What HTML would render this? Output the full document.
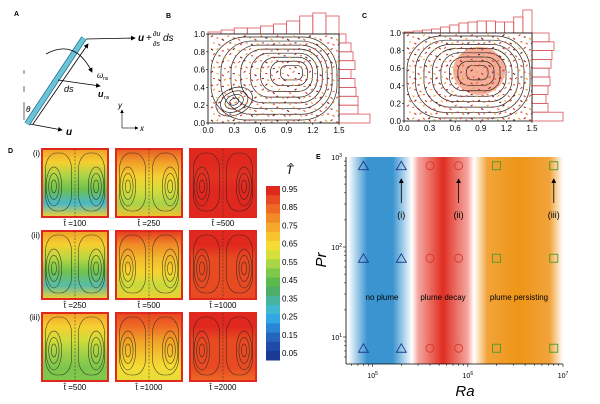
<!DOCTYPE html>
<html><head><meta charset="utf-8"><style>
html,body{margin:0;padding:0;background:#fff}
svg{display:block;font-family:"Liberation Sans",sans-serif}
</style></head><body>
<svg id="fig" width="600" height="404" viewBox="0 0 600 404" xmlns="http://www.w3.org/2000/svg">
<defs>
<marker id="ah" markerWidth="6" markerHeight="6" refX="5" refY="3" orient="auto"><path d="M0,0 L6,3 L0,6 z" fill="#000"/></marker>
<linearGradient id="gBlue" x1="0" x2="1" y1="0" y2="0"><stop offset="0" stop-color="#fff"/><stop offset="0.3" stop-color="#3a94d0"/><stop offset="0.7" stop-color="#3a94d0"/><stop offset="1" stop-color="#fff"/></linearGradient>
<linearGradient id="gRed" x1="0" x2="1" y1="0" y2="0"><stop offset="0" stop-color="#fff"/><stop offset="0.1" stop-color="#f4a7a0"/><stop offset="0.5" stop-color="#e12d20"/><stop offset="0.9" stop-color="#f4a7a0"/><stop offset="1" stop-color="#fff"/></linearGradient>
<linearGradient id="gOr" x1="0" x2="1" y1="0" y2="0"><stop offset="0" stop-color="#fff"/><stop offset="0.15" stop-color="#f2a33a"/><stop offset="0.5" stop-color="#ee9516"/><stop offset="0.85" stop-color="#f2a33a"/><stop offset="1" stop-color="#fff"/></linearGradient>
<clipPath id="clipB"><rect x="208" y="34" width="131" height="89"/></clipPath>
<clipPath id="clipC"><rect x="404" y="33" width="128" height="88"/></clipPath>
</defs>
<g id="panelA">
<text x="14" y="16" font-size="7" font-weight="bold">A</text>
<line x1="27" y1="124" x2="84" y2="38" stroke="#1a6f8a" stroke-width="6"/>
<line x1="27" y1="124" x2="84" y2="38" stroke="#6cc3d8" stroke-width="4.5"/>
<line x1="33" y1="124" x2="88" y2="44" stroke="#000" stroke-width="0.8" marker-end="url(#ah)"/>
<line x1="86" y1="39" x2="135" y2="38" stroke="#000" stroke-width="0.8" marker-end="url(#ah)"/>
<text x="138" y="41" font-size="10" font-style="italic" font-weight="bold">u</text>
<text x="146" y="41" font-size="10">+</text><text x="153" y="36" font-size="7" font-style="italic">∂u</text><text x="153" y="46" font-size="7" font-style="italic">∂s</text><text x="163" y="41" font-size="10" font-style="italic">ds</text>
<line x1="30" y1="124" x2="62" y2="130" stroke="#000" stroke-width="0.8" marker-end="url(#ah)"/>
<text x="66" y="135" font-size="10" font-style="italic" font-weight="bold">u</text>
<line x1="58" y1="80" x2="100" y2="86" stroke="#000" stroke-width="0.8" marker-end="url(#ah)"/>
<text x="98" y="97" font-size="9" font-style="italic" font-weight="bold">u</text><text x="104" y="99" font-size="5">ns</text>
<text x="64" y="92" font-size="9" font-style="italic">ds</text>
<path d="M46,54 Q75,38 92,72" fill="none" stroke="#000" stroke-width="0.8" marker-end="url(#ah)"/>
<text x="97" y="78" font-size="8" font-style="italic">ω</text><text x="103" y="80" font-size="5">ns</text>
<line x1="24" y1="70" x2="24" y2="74" stroke="#000" stroke-width="0.6"/><line x1="24" y1="86" x2="24" y2="92" stroke="#000" stroke-width="0.6"/><line x1="24" y1="102" x2="24" y2="120" stroke="#000" stroke-width="0.6"/>
<text x="26" y="112" font-size="8" font-style="italic">θ</text>
<line x1="122" y1="128" x2="122" y2="110" stroke="#000" stroke-width="0.6" marker-end="url(#ah)"/>
<line x1="122" y1="128" x2="138" y2="128" stroke="#000" stroke-width="0.6" marker-end="url(#ah)"/>
<text x="118" y="108" font-size="8" font-style="italic">y</text><text x="140" y="131" font-size="8" font-style="italic">x</text>
</g>
<g id="panelB"></g>
<g id="panelC"></g>
<g id="panelD"></g>
<g id="panelE"></g>
</svg>
<script>
// ---- Panel B/C histogram data ----
const bTopHist=[2,4,6,6,8,10,13,18,21,18];
const bRightHist=[7,12,14,16,12,16,17,19,19,31];
const cTopHist=[1,2,3,4,6,8,10,11,12,12,11,11,16,23];
const cRightHist=[17,22,20,19,17,18,16,14,16,31];
const axTicksX=["0.0","0.3","0.6","0.9","1.2","1.5"];
const axTicksY=["0.0","0.2","0.4","0.6","0.8","1.0"];
// ---- Panel E data ----
const raTri=[8e4,2e5], raCirc=[4e5,8e5], raSq=[2e6,8e6];
const prVals=[800,75,7.5];
const xTickExp=[5,6,7], yTickExp=[1,2,3];
const colorbarLabels=["0.95","0.85","0.75","0.65","0.55","0.45","0.35","0.25","0.15","0.05"];
const timeLabels=[["100","250","500"],["250","500","1000"],["500","1000","2000"]];

const NS="http://www.w3.org/2000/svg";
function mk(parent,tag,attrs,txt){const e=document.createElementNS(NS,tag);for(const k in attrs)e.setAttribute(k,attrs[k]);if(txt!==undefined)e.textContent=txt;parent.appendChild(e);return e;}

function streamPanel(gid,x0,x1,y0,y1,topH,rightH,mode){
  const g=document.getElementById(gid);
  const sx=v=>x0+(x1-x0)*v/1.5, sy=v=>y1-(y1-y0)*v;
  const letter=mk(g,'text',{x:x0-42,y:18,'font-size':7,'font-weight':'bold'},gid==='panelB'?'B':'C');
  
  
  const bw=(x1-x0)/topH.length;
  topH.forEach((h,i)=>{const r=mk(g,'rect',{x:x0+i*bw,y:y0-h,width:bw,height:h,fill:'none',stroke:'#d9535a','stroke-width':0.8});
    
    });
  const bh=(y1-y0)/rightH.length;
  rightH.forEach((w,i)=>{const r=mk(g,'rect',{x:x1,y:y0+i*bh,width:w,height:bh,fill:'none',stroke:'#d9535a','stroke-width':0.8});
    
    });
  mk(g,'rect',{x:x0,y:y0,width:x1-x0,height:y1-y0,fill:'#fff',stroke:'#000','stroke-width':0.8});
  const inner=mk(g,'g',{'clip-path':`url(#clip${mode})`});
  if(mode==='C') mk(inner,'ellipse',{cx:sx(0.88),cy:sy(0.57),rx:26,ry:24,fill:'#f2a088',opacity:0.85});
  // nested streamlines (rounded rects shrinking to vortex centre)
  const cxv=mode==='B'?sx(1.0):sx(0.88), cyv=mode==='B'?sy(0.58):sy(0.56);
  const W=x1-x0,H=y1-y0;
  for(let k=0;k<8;k++){
    const f=1-k/8.5;
    let lx=x0+3+(cxv-x0-3)*(1-f), rx=x1-2-(x1-2-cxv)*(1-f);
    let ty=y0+3+(cyv-y0-3)*(1-f), by=y1-3-(y1-3-cyv)*(1-f);
    if(mode==='B'){lx=Math.max(lx,x0+3+(k<2?0:20+(k-2)*5)); by=Math.min(by,y1-3-(k<3?0:12));}
    const r=Math.min(rx-lx,by-ty)*0.42;
    mk(inner,'rect',{x:lx,y:ty,width:rx-lx,height:by-ty,rx:r,ry:r,fill:'none',stroke:'#222','stroke-width':0.7});
  }
  if(mode==='B'){for(let k=1;k<=4;k++)mk(inner,'ellipse',{cx:sx(0.3),cy:sy(0.24),rx:k*4.8,ry:k*3.3,fill:'none',stroke:'#222','stroke-width':0.7,transform:`rotate(-25 ${sx(0.3)} ${sy(0.24)})`});}
  // particle dashes (regular grid)
  const cols=['#d8342a','#f0a030','#8a1a10','#e86030'];
  for(let i=0;i<24;i++)for(let j=0;j<15;j++){
    const px=x0+3+i*(W-6)/23+(j%2)*2, py=y0+3+j*(H-6)/14+(i%3);
    mk(inner,'line',{x1:px,y1:py,x2:px+2,y2:py+((i+j)%3-1)*1.5,stroke:cols[(i*3+j)%4],'stroke-width':1.1});
  }
  axTicksX.forEach((t,i)=>{const x=x0+i*(x1-x0)/5;mk(g,'line',{x1:x,y1:y1,x2:x,y2:y1+2,stroke:'#000','stroke-width':0.6});
    const l=mk(g,'text',{x:x,y:y1+10,'font-size':8,'text-anchor':'middle'},t);
    
    });
  axTicksY.forEach((t,i)=>{const y=y1-i*(y1-y0)/5;mk(g,'line',{x1:x0-2,y1:y,x2:x0,y2:y,stroke:'#000','stroke-width':0.6});
    const l=mk(g,'text',{x:x0-3,y:y+3,'font-size':8,'text-anchor':'end'},t);
    
    });
}
streamPanel('panelB',208,339,34,123,bTopHist,bRightHist,'B');
streamPanel('panelC',404,532,33,121,cTopHist,cRightHist,'C');

// ---- Panel D ----
(function(){
  const g=document.getElementById('panelD');
  mk(g,'text',{x:8,y:153,'font-size':7,'font-weight':'bold'},'D');
  const cbColors=['#e0281e','#e84a22','#ee6a24','#f28a26','#f5a82a','#f8c42e','#f4dc34','#d6e03a','#aad646','#7ec84a','#5cba4c','#4cae68','#48b4a0','#40b8d0','#30a8e4','#2a86d4','#2466bc','#1e4ca8','#1a3a94'];
  const mapsGrad=[
    [['#f0a028','#f4d030','#a8d448','#6cc050','#48b8c8','#f0d030'],['#e85a22','#f2a02a','#f6d030','#d8dc3a','#a8d448','#f2c030'],['#e0281e','#e0281e','#e43222','#e0281e','#e0281e','#e0281e']],
    [['#f0a028','#f6d030','#b8d840','#70c250','#58bca8','#f0d030'],['#e43a20','#f08a26','#f4b82c','#f6d430','#c8da3c','#f0d030'],['#e0281e','#e0281e','#e84a22','#e84a22','#e84a22','#e84a22']],
    [['#f2a02a','#f6d030','#d0dc3a','#a0d048','#7cc64c','#80c84c'],['#e84622','#ee6a24','#f2a028','#f5c02c','#f4dc34','#e8dc38'],['#e0281e','#e0281e','#e84a22','#e84a22','#e84a22','#ee6a24']]
  ];
  const cx=[42,116,190], rows=[149,231,313], w=66, h=68;
  const defs=document.querySelector('defs');
  ['(i)','(ii)','(iii)'].forEach((r,ri)=>{
    const t=mk(g,'text',{x:40,y:rows[ri]+7,'font-size':8,'text-anchor':'end'},r);
    
    
    cx.forEach((x,ci)=>{
      const id='m'+ri+ci;const lg=mk(defs,'linearGradient',{id:id,x1:0,x2:0,y1:0,y2:1});
      mapsGrad[ri][ci].forEach((c,k)=>mk(lg,'stop',{offset:k/5,'stop-color':c}));
      const y=rows[ri];
      const m=mk(g,'rect',{x:x,y:y,width:w,height:h,fill:`url(#${id})`,stroke:'#e0281e','stroke-width':2});
      
      
      mk(g,'line',{x1:x+w/2,y1:y,x2:x+w/2,y2:y+h,stroke:'#333','stroke-width':0.5,'stroke-dasharray':'2,1.5'});
      [0.25,0.75].forEach(f=>{
        mk(g,'rect',{x:x+w*f-13,y:y+4,width:26,height:h-10,rx:11,ry:16,fill:'none',stroke:'#222','stroke-width':0.6,opacity:0.8});
        for(let k=1;k<=3;k++)mk(g,'ellipse',{cx:x+w*(f<0.5?0.18:0.82),cy:y+h*0.55,rx:k*2.6,ry:k*6.5,fill:'none',stroke:'#222','stroke-width':0.6,opacity:0.8});});
      const tl=mk(g,'text',{x:x+w/2,y:y+h+9,'font-size':8,'text-anchor':'middle'},'t\u0302 ='+timeLabels[ri][ci]);
      
      
    });
  });
  const cy0=186,cy1=360,bh=(cy1-cy0)/cbColors.length;
  cbColors.forEach((c,i)=>mk(g,'rect',{x:266,y:cy0+i*bh,width:14,height:bh+0.5,fill:c}));
  colorbarLabels.forEach((l,i)=>{const t=mk(g,'text',{x:282,y:cy0+6+i*(cy1-cy0-10)/9,'font-size':8},l);
    
    });
  mk(g,'text',{x:286,y:174,'font-size':12,'font-style':'italic'},'T\u0302');
})();

// ---- Panel E ----
(function(){
  const g=document.getElementById('panelE');
  const X0=346,X1=563,Y0=157,Y1=364;
  const xs=v=>X0+(Math.log10(v)-4.72)/(7-4.72)*(X1-X0);
  const ys=v=>Y1-(Math.log10(v)-0.7)/(3-0.7)*(Y1-Y0);
  mk(g,'rect',{x:348,y:Y0,width:64,height:Y1-Y0,fill:'url(#gBlue)'});
  mk(g,'rect',{x:412,y:Y0,width:62,height:Y1-Y0,fill:'url(#gRed)'});
  mk(g,'rect',{x:474,y:Y0,width:89,height:Y1-Y0,fill:'url(#gOr)'});
  mk(g,'line',{x1:X0,y1:Y0,x2:X0,y2:Y1,stroke:'#000','stroke-width':0.8});
  mk(g,'line',{x1:X0,y1:Y1,x2:X1,y2:Y1,stroke:'#000','stroke-width':0.8});
  mk(g,'text',{x:316,y:159,'font-size':7,'font-weight':'bold'},'E');
  for(let d=4;d<7;d++)for(let m=1;m<10;m++){const v=m*Math.pow(10,d);const x=xs(v);if(x<X0||x>X1)continue;mk(g,'line',{x1:x,y1:Y1,x2:x,y2:Y1+(m===1?3:1.8),stroke:'#000','stroke-width':0.6});}
  mk(g,'line',{x1:X1,y1:Y1,x2:X1,y2:Y1+3,stroke:'#000','stroke-width':0.6});
  for(let d=0;d<3;d++)for(let m=1;m<10;m++){const v=m*Math.pow(10,d);const y=ys(v);if(y<Y0-0.5||y>Y1)continue;mk(g,'line',{x1:X0-(m===1?3:1.8),y1:y,x2:X0,y2:y,stroke:'#000','stroke-width':0.6});}
  xTickExp.forEach(e=>{const t=mk(g,'text',{x:xs(Math.pow(10,e)),y:Y1+14,'font-size':7,'text-anchor':'middle'});t.innerHTML=`10<tspan dy="-3" font-size="5">${e}</tspan>`;
    
    });
  yTickExp.forEach(e=>{const t=mk(g,'text',{x:X0-4,y:ys(Math.pow(10,e))+3,'font-size':7,'text-anchor':'end'});t.innerHTML=`10<tspan dy="-3" font-size="5">${e}</tspan>`;
    
    });
  const xl=mk(g,'text',{x:465,y:396,'font-size':15,'font-style':'italic','text-anchor':'middle'},'Ra');
  
  
  const yl=mk(g,'text',{x:326,y:260,'font-size':15,'font-style':'italic','text-anchor':'middle',transform:'rotate(-90 326 260)'},'Pr');
  
  
  prVals.forEach(p=>{
    raTri.forEach(r=>{const x=xs(r),y=ys(p);const s=mk(g,'path',{d:`M${x},${y-4.5} L${x+5},${y+4} L${x-5},${y+4} Z`,fill:'none',stroke:'#1f3a8a','stroke-width':0.9});
      
      });
    raCirc.forEach(r=>{const s=mk(g,'circle',{cx:xs(r),cy:ys(p),r:4,fill:'none',stroke:'#d83a2a','stroke-width':0.9});
      
      });
    raSq.forEach(r=>{const s=mk(g,'rect',{x:xs(r)-4,y:ys(p)-4,width:8,height:8,fill:'none',stroke:'#4a9a2a','stroke-width':0.9});
      
      });
  });
  [[raTri[1],'(i)'],[raCirc[1],'(ii)'],[raSq[1],'(iii)']].forEach(([r,l])=>{const x=xs(r);
    mk(g,'line',{x1:x,y1:203,x2:x,y2:179,stroke:'#000','stroke-width':0.8,'marker-end':'url(#ah)'});
    const t=mk(g,'text',{x:x,y:218,'font-size':9,'text-anchor':'middle'},l);
    
    });
  [[382,'no plume'],[443,'plume decay'],[519,'plume persisting']].forEach(([x,l])=>{const t=mk(g,'text',{x:x,y:300,'font-size':8,'text-anchor':'middle'},l);
    
    });
})();
</script>
</body></html>
